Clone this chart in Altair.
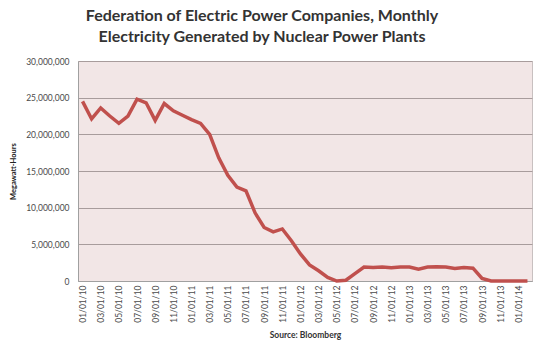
import altair as alt
import pandas as pd

months = []
for yr in [10, 11, 12, 13]:
    for m in range(1, 13):
        months.append(f"{m:02d}/01/{yr}")
months += ["01/01/14", "02/01/14"]

values_m = [
    24.5, 22.1, 23.6, 22.5, 21.5, 22.5, 24.8, 24.3, 21.9, 24.2, 23.2, 22.6,
    22.0, 21.5, 20.0, 16.8, 14.4, 12.8, 12.3, 9.3, 7.3, 6.7, 7.1, 5.5,
    3.7, 2.2, 1.4, 0.5, 0.0, 0.1, 1.0, 1.9, 1.85, 1.9, 1.8, 1.9,
    1.9, 1.6, 1.9, 1.95, 1.9, 1.7, 1.85, 1.75, 0.35, 0.0, 0.0, 0.0,
    0.0, 0.0,
]
tick_labels = months[::2][:25]

df = pd.DataFrame({"month": months, "mwh": [v * 1_000_000 for v in values_m]})

FONT = "Lato"

chart = alt.Chart(df).mark_line(color="#c0504d", strokeWidth=3.5, strokeJoin="miter").encode(
    x=alt.X("month:O", sort=months,
            scale=alt.Scale(type="point", padding=0.5),
            axis=alt.Axis(values=tick_labels, labelAngle=270, labelFontSize=8.5,
                          labelColor="#4a4a4a", labelPadding=4, ticks=False,
                          domainColor="#a0a0a0", title="Source: Bloomberg",
                          titleFontSize=8.5, titleFontWeight="bold", titleColor="#333333",
                          titlePadding=8, grid=False)),
    y=alt.Y("mwh:Q", scale=alt.Scale(domain=[0, 30_000_000], nice=False),
            axis=alt.Axis(values=list(range(0, 30_000_001, 5_000_000)), format=",.0f",
                          labelFontSize=8.5, labelColor="#4a4a4a", labelPadding=9,
                          ticks=False, domainColor="#a0a0a0", gridColor="#a89c9c",
                          gridWidth=1, title="Megawatt-Hours", titleFontSize=7.5,
                          titleFontWeight="bold", titleColor="#222222", titlePadding=8)),
).properties(
    width=454, height=220,
    title=alt.TitleParams(
        ["Federation of Electric Power Companies, Monthly",
         "Electricity Generated by Nuclear Power Plants"],
        fontSize=16, font=FONT, fontWeight="bold", color="#333333",
        anchor="middle", dx=-43, offset=12, lineHeight=21),
    background="white",
    padding={"left": 78, "top": 61, "right": 4, "bottom": 67},
    autosize=alt.AutoSizeParams(type="none"),
).configure_view(
    fill="#f2e6e6", stroke="#c8c0c0", strokeWidth=1
).configure_axis(labelFont=FONT, titleFont=FONT)

chart.save("out.html", embed_options={"renderer": "svg", "actions": False})
